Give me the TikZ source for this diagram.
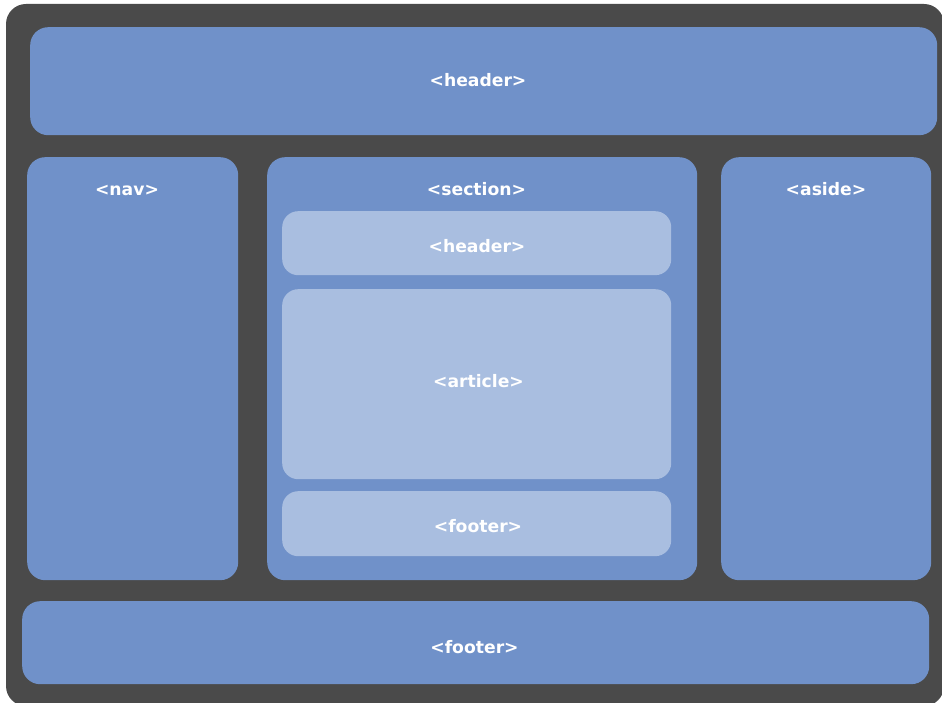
\documentclass[tikz,border=0pt]{standalone}
\usepackage{fontspec}
\newfontfamily\tagfont{DejaVu Sans}
\definecolor{pagegrey}{RGB}{74,74,74}
\definecolor{blockblue}{RGB}{112,145,201}
\definecolor{innerblue}{RGB}{169,190,224}
\newcommand{\outerradius}{18pt}
\newcommand{\innerradius}{16pt}
\newcommand{\tagsize}{\fontsize{17.2}{20}\selectfont}
\tikzstyle{page} = [% dark page behind the layout
  fill=pagegrey,
  rounded corners=20pt
  ]
\tikzstyle{block} = [% outer layout block
  rectangle,
  anchor=north west,
  inner sep=0pt,
  rounded corners=\outerradius,
  fill=blockblue
  ]
\tikzstyle{subblock} = [% block inside the section
  block,
  rounded corners=\innerradius,
  fill=innerblue
  ]
\tikzstyle{tag} = [% element name, placed on its baseline
  anchor=base,
  text=white,
  inner sep=0pt,
  font=\tagfont\bfseries\tagsize
  ]

\begin{document}
\begin{tikzpicture}[x=1pt, y=-1pt]

\useasboundingbox (0,0) rectangle (942,703);
\fill[page] (6,4) rectangle (944,706);

%%% Blocks
\node[block, minimum width=907pt, minimum height=108pt] (header) at (30,27) {};
\node[block, minimum width=211pt, minimum height=423pt] (nav) at (27,157) {};
\node[block, minimum width=430pt, minimum height=423pt] (section) at (267,157) {};
\node[block, minimum width=210pt, minimum height=423pt] (aside) at (721,157) {};
\node[block, minimum width=907pt, minimum height=83pt] (footer) at (22,601) {};

\node[subblock, minimum width=389pt, minimum height=64pt] (secheader) at (282,211) {};
\node[subblock, minimum width=389pt, minimum height=190pt] (article) at (282,289) {};
\node[subblock, minimum width=389pt, minimum height=65pt] (secfooter) at (282,491) {};

%%% Tags
\node[tag] (headertag) at (478,87) {<header>};
\node[tag] (navtag) at (127,196) {<nav>};
\node[tag] (sectiontag) at (476.5,196) {<section>};
\node[tag] (asidetag) at (826,196) {<aside>};
\node[tag] (secheadertag) at (477,252.5) {<header>};
\node[tag] (articletag) at (478.5,387) {<article>};
\node[tag] (secfootertag) at (478,532) {<footer>};
\node[tag] (footertag) at (474.5,653) {<footer>};

\end{tikzpicture}
\end{document}
